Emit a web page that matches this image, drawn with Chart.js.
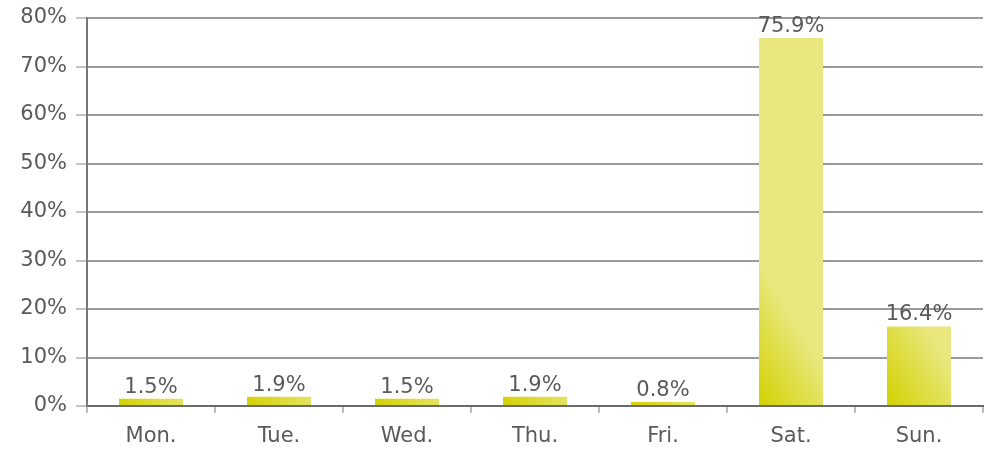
<!DOCTYPE html>
<html>
<head>
<meta charset="utf-8">
<script src="https://cdn.jsdelivr.net/npm/chart.js@4/dist/chart.umd.min.js"></script>
<style>
  html, body { margin: 0; padding: 0; background: #fff; }
  #wrap { width: 989px; height: 453px; position: relative; }
</style>
</head>
<body>
<div id="wrap"><canvas id="ch"></canvas></div>
<script>
// ── Datos ────────────────────────────────────────────────────────────────
const DAYS   = ['Mon.', 'Tue.', 'Wed.', 'Thu.', 'Fri.', 'Sat.', 'Sun.'];
const SHARE  = [1.5, 1.9, 1.5, 1.9, 0.8, 75.9, 16.4];
const Y_MAX  = 80;
const Y_STEP = 10;

const FONT     = { family: "'DejaVu Sans', sans-serif", size: 21 };
const TXT      = '#5a5a5a';
const BAR_DARK = '#d3d100';
const BAR_LITE = '#e8e87e';

// gradiente diagonal anclado en la base de cada barra
function barFill(c) {
    const chart = c.chart;
    const xs = chart.scales.x, ys = chart.scales.y;
    if (!chart.chartArea || !xs || !ys || c.type !== 'data') return BAR_LITE;
    const cx   = xs.getPixelForValue(c.dataIndex);
    const w    = xs.width / DAYS.length * 0.5;
    const base = ys.getPixelForValue(0);
    const g = chart.ctx.createLinearGradient(cx - w / 2, base, cx + w / 2, base - w * 0.6);
    g.addColorStop(0, BAR_DARK);
    g.addColorStop(1, BAR_LITE);
    return g;
}

// etiquetas de valor encima de cada barra
const valueLabels = {
    id: 'valueLabels',
    afterDatasetsDraw(chart) {
        const ctx = chart.ctx;
        const meta = chart.getDatasetMeta(0);
        ctx.save();
        ctx.font = `${FONT.size}px ${FONT.family}`;
        ctx.fillStyle = TXT;
        ctx.textAlign = 'center';
        ctx.textBaseline = 'alphabetic';
        meta.data.forEach((bar, i) => {
            ctx.fillText(SHARE[i].toFixed(1) + '%', bar.x, bar.y - 6);
        });
        ctx.restore();
    },
};

new Chart(document.getElementById('ch'), {
    type: 'bar',
    data: {
        labels: DAYS,
        datasets: [{
            data: SHARE,
            backgroundColor: barFill,
            borderWidth: 0,
            barPercentage: 0.5,
            categoryPercentage: 1,
        }],
    },
    options: {
        responsive: true, maintainAspectRatio: false,
        animation: false,
        layout: { padding: { top: 0, right: 6, left: 0, bottom: 0 } },
        plugins: { legend: { display: false }, tooltip: { enabled: false } },
        scales: {
            x: {
                grid: { drawOnChartArea: false, drawTicks: true, tickLength: 7, color: '#bbbbbb', lineWidth: 2 },
                border: { color: '#6a6a6a', width: 2 },
                ticks: { color: TXT, font: FONT, padding: 11 },
                afterFit: s => { s.height = 47; },
            },
            y: {
                min: 0, max: Y_MAX,
                grid: { color: '#9a9a9a', lineWidth: 2, tickLength: 11, tickColor: '#c4c4c4' },
                border: { color: '#777777', width: 2 },
                ticks: { stepSize: Y_STEP, color: TXT, font: FONT, padding: 9, callback: v => v + '%' },
                afterFit: s => { s.width = 87; s.paddingTop = 18; s.paddingBottom = 0; },
            },
        },
    },
    plugins: [valueLabels],
});
</script>
</body>
</html>
